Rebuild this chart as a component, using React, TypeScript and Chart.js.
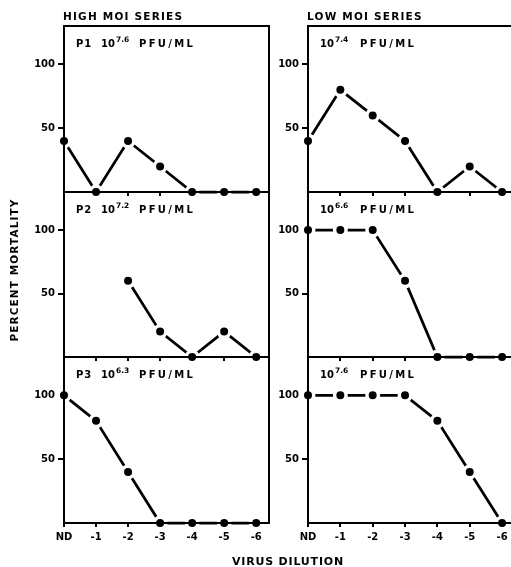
import React, { useEffect, useRef } from "react";
import { Chart, registerables } from "chart.js";

Chart.register(...registerables);

// ---- data ----
const dilutionLabels = ["ND", "-1", "-2", "-3", "-4", "-5", "-6"];
const yTickValues = [50, 100];

const highP1 = [40, 0, 40, 20, 0, 0, 0];
const highP2 = [null, null, 60, 20, 0, 20, 0];
const highP3 = [100, 80, 40, 0, 0, 0, 0];
const lowA = [40, 80, 60, 40, 0, 20, 0];
const lowB = [100, 100, 100, 60, 0, 0, 0];
const lowC = [100, 100, 100, 100, 80, 40, 0];

const highPrefixes = ["P1", "P2", "P3"];
const highExponents = ["7.6", "7.2", "6.3"];
const lowExponents = ["7.4", "6.6", "7.6"];

const FONT = "'DejaVu Sans', 'Liberation Sans', sans-serif";

const panelDecor = {
  id: "panelDecor",
  afterDatasetsDraw(chart: any, _args: any, opts: any) {
    const { ctx, chartArea: a } = chart;
    ctx.save();
    ctx.strokeStyle = "#000";
    ctx.lineWidth = 2;
    ctx.strokeRect(a.left, a.top, a.right - a.left, a.bottom - a.top);
    ctx.fillStyle = "#000";
    ctx.textBaseline = "alphabetic";
    ctx.textAlign = "left";
    const by = a.top + 21;
    ctx.font = `bold 10px ${FONT}`;
    ctx.letterSpacing = "1px";
    if (opts.prefix) ctx.fillText(opts.prefix, a.left + 12, by);
    ctx.letterSpacing = "0px";
    ctx.fillText("10", a.left + opts.tenX, by);
    const w = ctx.measureText("10").width;
    ctx.font = `bold 7.5px ${FONT}`;
    ctx.fillText(opts.exponent, a.left + opts.tenX + w + 1, by - 5);
    ctx.font = `bold 10px ${FONT}`;
    ctx.letterSpacing = "2.3px";
    ctx.fillText("PFU/ML", a.left + opts.pfuX, by);
    ctx.restore();
  },
};

type PanelProps = {
  values: (number | null)[];
  prefix: string;
  exponent: string;
  left: number;
  top: number;
  width: number;
  height: number;
  showX: boolean;
  tenX: number;
  pfuX: number;
};

function Panel(p: PanelProps) {
  const ref = useRef<HTMLCanvasElement>(null);
  const cw = p.width + 50;
  const ch = p.height + 40;
  useEffect(() => {
    const canvas = ref.current!;
    const chart = new Chart(canvas, {
      type: "line",
      data: {
        datasets: [
          {
            data: p.values.map((v, i) => ({ x: i, y: v })) as any,
            borderColor: "#000",
            borderWidth: 2.75,
            pointRadius: 5.75,
            pointBackgroundColor: "#000",
            pointBorderColor: "#fff",
            pointBorderWidth: 3.5,
            clip: false as any,
            spanGaps: false,
            tension: 0,
          },
        ],
      },
      options: {
        animation: false,
        responsive: false,
        events: [],
        layout: { padding: { left: 0, top: 10, right: 10, bottom: 0 } },
        plugins: {
          legend: { display: false },
          tooltip: { enabled: false },
          panelDecor: { prefix: p.prefix, exponent: p.exponent, tenX: p.tenX, pfuX: p.pfuX },
        } as any,
        scales: {
          x: {
            type: "linear",
            min: 0,
            max: 6.4,
            z: 1,
            afterBuildTicks: (s: any) => {
              s.ticks = dilutionLabels.map((_, i) => ({ value: i }));
            },
            afterFit: (s: any) => {
              s.height = 30;
            },
            grid: { drawOnChartArea: false, drawTicks: true, tickLength: 4, color: "#000", lineWidth: 2 },
            border: { display: false },
            ticks: {
              padding: 4,
              color: "#000",
              maxRotation: 0,
              autoSkip: false,
              font: { family: FONT, weight: "bold", size: 10 },
              callback: (v: any) => (p.showX ? dilutionLabels[Math.round(v)] ?? "" : ""),
            },
          },
          y: {
            type: "linear",
            min: 0,
            max: 130,
            z: 1,
            afterBuildTicks: (s: any) => {
              s.ticks = yTickValues.map((v) => ({ value: v }));
            },
            afterFit: (s: any) => {
              s.width = 40;
            },
            grid: { drawOnChartArea: false, drawTicks: true, tickLength: 6, color: "#000", lineWidth: 2 },
            border: { display: false },
            ticks: {
              padding: 3,
              color: "#000",
              font: { family: FONT, weight: "bold", size: 10 },
            },
          },
        },
      },
      plugins: [panelDecor as any],
    });
    return () => chart.destroy();
  }, []);
  return (
    <canvas
      ref={ref}
      width={cw}
      height={ch}
      style={{ position: "absolute", left: p.left - 40, top: p.top - 10, width: cw, height: ch, display: "block" }}
    />
  );
}

const textStyle: React.CSSProperties = {
  position: "absolute",
  fontFamily: FONT,
  fontWeight: "bold",
  color: "#000",
  whiteSpace: "nowrap",
};

export default function App() {
  const rows = [
    { top: 26, height: 166 },
    { top: 192, height: 165 },
    { top: 357, height: 166 },
  ];
  const highValues = [highP1, highP2, highP3];
  const lowValues = [lowA, lowB, lowC];
  return (
    <div
      style={{
        position: "absolute",
        left: 0,
        top: 0,
        width: 511,
        height: 567,
        overflow: "hidden",
        background: "#fff",
      }}
    >
      {rows.map((r, i) => (
        <Panel
          key={"h" + i}
          values={highValues[i]}
          prefix={highPrefixes[i]}
          exponent={highExponents[i]}
          left={64}
          top={r.top}
          width={205}
          height={r.height}
          showX={i === 2}
          tenX={37}
          pfuX={75}
        />
      ))}
      {rows.map((r, i) => (
        <Panel
          key={"l" + i}
          values={lowValues[i]}
          prefix=""
          exponent={lowExponents[i]}
          left={308}
          top={r.top}
          width={207}
          height={r.height}
          showX={i === 2}
          tenX={12}
          pfuX={52}
        />
      ))}
      <div style={{ ...textStyle, left: 63, top: 11, fontSize: 10.5, lineHeight: "10px", letterSpacing: 1.2 }}>
        HIGH MOI SERIES
      </div>
      <div style={{ ...textStyle, left: 307, top: 11, fontSize: 10.5, lineHeight: "10px", letterSpacing: 1.2 }}>
        LOW MOI SERIES
      </div>
      <div
        style={{
          ...textStyle,
          left: 14,
          top: 270,
          fontSize: 10.5,
          lineHeight: "10px",
          letterSpacing: 1.1,
          transform: "translate(-50%, -50%) rotate(-90deg)",
        }}
      >
        PERCENT MORTALITY
      </div>
      <div
        style={{
          ...textStyle,
          left: 288,
          top: 556,
          fontSize: 11,
          lineHeight: "11px",
          letterSpacing: 0.8,
          transform: "translateX(-50%)",
        }}
      >
        VIRUS DILUTION
      </div>
    </div>
  );
}
